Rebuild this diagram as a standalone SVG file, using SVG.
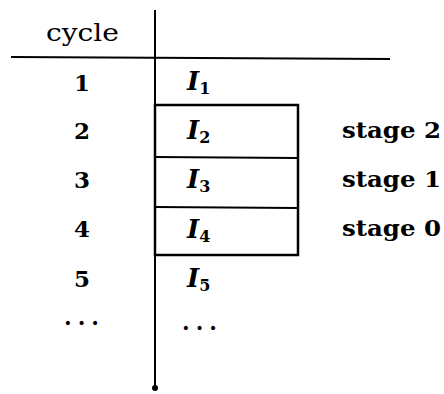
<svg xmlns="http://www.w3.org/2000/svg" width="444" height="394" viewBox="0 0 444 394">
  <style>
    .rule { stroke: #000; stroke-width: 2; fill: none; }
    .box { stroke: #000; stroke-width: 2.5; fill: none; }
    .num { font-family: "DejaVu Serif", "Liberation Serif", serif; font-weight: bold; font-size: 23px; text-anchor: middle; }
    .head { font-family: "DejaVu Serif", "Liberation Serif", serif; font-size: 24px; }
    .instr { font-family: "DejaVu Serif", "Liberation Serif", serif; font-style: italic; font-weight: bold; font-size: 26px; }
    .sub { font-size: 16px; font-style: normal; font-weight: bold; }
    .stage { font-family: "DejaVu Serif", "Liberation Serif", serif; font-weight: bold; font-size: 23px; }
    .dots { font-family: "DejaVu Serif", "Liberation Serif", serif; font-weight: bold; font-size: 22px; }
  </style>
  <rect width="444" height="394" fill="#fff"/>

  <g id="axes">
    <line class="rule" x1="155" y1="10" x2="155" y2="388"/>
    <circle cx="155" cy="388" r="3" fill="#000"/>
    <line class="rule" x1="11" y1="57" x2="390" y2="59"/>
  </g>

  <g id="header">
    <text class="head" x="46" y="41" textLength="73" lengthAdjust="spacingAndGlyphs">cycle</text>
  </g>

  <g id="cycles">
    <text class="num" x="82" y="91">1</text>
    <text class="num" x="82" y="139">2</text>
    <text class="num" x="82" y="188">3</text>
    <text class="num" x="82" y="237">4</text>
    <text class="num" x="82" y="287">5</text>
    <text class="dots" x="64" y="325" textLength="35">. . .</text>
  </g>

  <g id="pipeline">
    <rect class="box" x="155" y="105" width="143" height="150"/>
    <line class="rule" x1="155" y1="157" x2="298" y2="158"/>
    <line class="rule" x1="155" y1="207" x2="298" y2="208"/>
  </g>

  <g id="instructions">
    <text class="instr" x="187" y="90">I<tspan class="sub" dy="4">1</tspan></text>
    <text class="instr" x="187" y="139">I<tspan class="sub" dy="4">2</tspan></text>
    <text class="instr" x="187" y="188">I<tspan class="sub" dy="4">3</tspan></text>
    <text class="instr" x="187" y="238">I<tspan class="sub" dy="4">4</tspan></text>
    <text class="instr" x="187" y="287">I<tspan class="sub" dy="4">5</tspan></text>
    <text class="dots" x="182" y="330" textLength="35">. . .</text>
  </g>

  <g id="stages">
    <text class="stage" x="342" y="138" textLength="99" lengthAdjust="spacingAndGlyphs">stage 2</text>
    <text class="stage" x="342" y="187" textLength="99" lengthAdjust="spacingAndGlyphs">stage 1</text>
    <text class="stage" x="342" y="236" textLength="99" lengthAdjust="spacingAndGlyphs">stage 0</text>
  </g>
</svg>
